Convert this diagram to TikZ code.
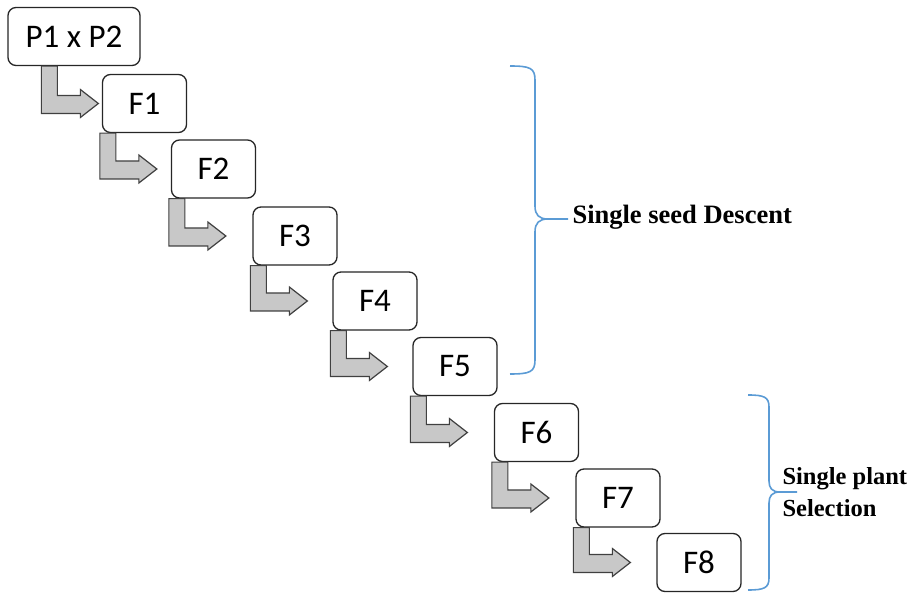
\documentclass[tikz,border=0pt]{standalone}
\usepackage{fontspec}
\setmainfont{Carlito}
\newfontfamily\labelfont{Liberation Serif}
\usetikzlibrary{calc}

\definecolor{bracecol}{RGB}{91,155,213}
\definecolor{arrowgray}{RGB}{200,200,200}

\tikzset{
  genbox/.style={draw=black!85, line width=1.3pt, rounded corners=8pt, fill=white,
    minimum width=84pt, minimum height=58pt, inner sep=0pt,
    font=\fontsize{33}{38}\selectfont},
  bentarr/.style={draw=black!75, line width=1.2pt, fill=arrowgray, line join=miter},
  gbrace/.style={draw=bracecol, line width=1.6pt},
  grouplabel/.style={font=\labelfont\bfseries\fontsize{26.5}{32}\selectfont, align=left, anchor=west}
}

% bent arrow: from box #1 (shaft offset #3) to the left side of box #2
\newcommand{\bentarrow}[3]{%
  \draw[bentarr] let \p1=(#1.south west), \p2=(#2.west) in
    ($(\x1+#3,\y1)$) -- ($(\x1+#3,\y2-10pt)$) -- ($(\x1+#3+39pt,\y2-10pt)$)
    -- ($(\x1+#3+39pt,\y2-14pt)$) -- ($(\x1+#3+57pt,\y2)$)
    -- ($(\x1+#3+39pt,\y2+14pt)$) -- ($(\x1+#3+39pt,\y2+8pt)$)
    -- ($(\x1+#3+16pt,\y2+8pt)$) -- ($(\x1+#3+16pt,\y1)$) -- cycle;}

\begin{document}
\begin{tikzpicture}[x=1pt,y=-1pt]
  \useasboundingbox (0,0) rectangle (919,593);

  % generations
  \node[genbox, minimum width=132pt] (p12) at (74,36.5) {P1 x P2};
  \node[genbox] (f1) at (144.5,103.5) {F1};
  \node[genbox] (f2) at (213.5,169) {F2};
  \node[genbox] (f3) at (295,236) {F3};
  \node[genbox] (f4) at (375,301) {F4};
  \node[genbox] (f5) at (455,366.5) {F5};
  \node[genbox] (f6) at (536.5,432.5) {F6};
  \node[genbox] (f7) at (618,498) {F7};
  \node[genbox] (f8) at (699,562.5) {F8};

  % bent arrows between generations
  \bentarrow{p12}{f1}{34pt}
  \foreach \a/\b in {f1/f2,f2/f3,f3/f4,f4/f5,f5/f6,f6/f7,f7/f8}
    \bentarrow{\a}{\b}{-2pt};

  % braces
  \draw[gbrace] (510,66) .. controls (530,66) and (535,68) .. (535,80)
    -- (535,206) .. controls (535,215) and (539,219) .. (548,219) -- (568,219)
    (548,219) .. controls (539,219) and (535,223) .. (535,232)
    -- (535,360) .. controls (535,372) and (530,374) .. (510,374);
  \node[grouplabel] (ssd) at (569,217) {Single seed Descent};

  \draw[gbrace] (748,395) .. controls (764,395) and (769,397) .. (769,407)
    -- (769,481) .. controls (769,488) and (772,492) .. (780,492) -- (797,492)
    (780,492) .. controls (772,492) and (769,496) .. (769,503)
    -- (769,578) .. controls (769,588) and (764,590) .. (748,590);
  \node[grouplabel, font=\labelfont\bfseries\fontsize{24.5}{32}\selectfont] (sps) at (779,492) {Single plant\\Selection};
\end{tikzpicture}
\end{document}
